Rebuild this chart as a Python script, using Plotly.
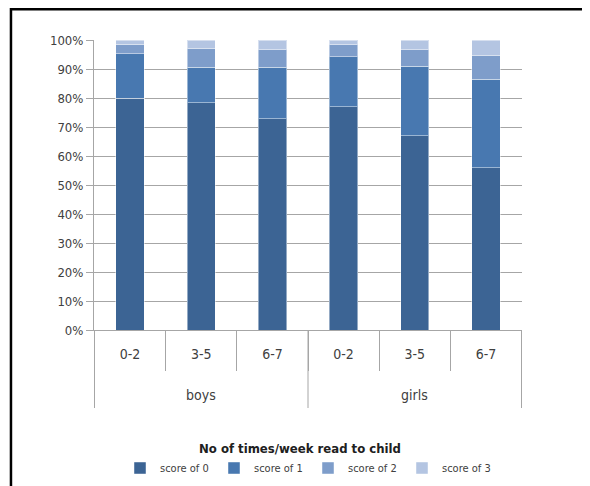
import plotly.graph_objects as go

groups = ["boys", "boys", "boys", "girls", "girls", "girls"]
freq = ["0-2", "3-5", "6-7", "0-2", "3-5", "6-7"]
score0 = [80.0, 78.4, 72.9, 77.0, 66.9, 55.9]
score1 = [15.2, 12.2, 17.7, 17.3, 24.1, 30.5]
score2 = [3.3, 6.6, 6.0, 4.1, 5.6, 8.4]
score3 = [1.5, 2.8, 3.4, 1.6, 3.4, 5.2]
series_names = ["score of 0", "score of 1", "score of 2", "score of 3"]
colors = ["#3C6494", "#4878B0", "#7E9DCA", "#B4C5E2"]
ytick_vals = [0, 10, 20, 30, 40, 50, 60, 70, 80, 90, 100]
ytick_text = [f"{v}%" for v in ytick_vals]
group_names = ["boys", "girls"]

FONT = "DejaVu Sans Condensed, Liberation Sans Narrow, sans-serif"
GRID = "#A6A6A6"

cats = [f"{g} {f}" for g, f in zip(groups, freq)]

fig = go.Figure()
for name, vals, col in zip(series_names, [score0, score1, score2, score3], colors):
    fig.add_trace(go.Bar(
        x=cats, y=vals, name=name,
        marker=dict(color=col, line=dict(color="rgba(255,255,255,0.45)", width=1)),
    ))

annotations = [dict(text="<b>No of times/week read to child</b>", xref="paper", yref="paper",
                    x=0.481, y=-0.41, xanchor="center", yanchor="middle", showarrow=False,
                    font=dict(size=13, color="#202020"))]
shapes = [
    dict(type="line", xref="paper", yref="paper", x0=-0.194, x1=-0.194, y0=1.2, y1=-0.6,
         line=dict(color="black", width=2.5)),
    dict(type="line", xref="paper", yref="paper", x0=-0.194, x1=1.2, y0=1.106, y1=1.106,
         line=dict(color="black", width=2.5)),
]
n_per_group = len(cats) // len(group_names)
for gi, g in enumerate(group_names):
    center = gi * n_per_group + (n_per_group - 1) / 2
    annotations.append(dict(text=g, xref="x", yref="paper", x=center, y=-0.225,
                            xanchor="center", yanchor="middle", showarrow=False,
                            font=dict(size=14, color="#404040")))
for b in range(len(group_names) + 1):
    xb = b * n_per_group - 0.5
    shapes.append(dict(type="line", xref="x", yref="paper", x0=xb, x1=xb, y0=0, y1=-0.269,
                       line=dict(color=GRID, width=1)))

fig.update_layout(
    barmode="stack",
    bargap=0.6,
    width=590, height=486,
    margin=dict(l=86, r=76, t=32, b=164),
    paper_bgcolor="white", plot_bgcolor="white",
    font=dict(family=FONT, size=13, color="#404040"),
    showlegend=True,
    legend=dict(orientation="h", x=0.5, xanchor="center", yref="container",
                y=1 - 460 / 486, yanchor="middle",
                font=dict(size=11, color="#404040"), entrywidth=49,
                entrywidthmode="pixels", itemwidth=30,
                traceorder="normal"),
    annotations=annotations,
    shapes=shapes,
)
fig.update_yaxes(range=[0, 100], tickvals=ytick_vals, ticktext=ytick_text,
                 showgrid=True, gridcolor=GRID, gridwidth=1, automargin=False,
                 showline=True, linecolor=GRID, ticks="outside", ticklen=7,
                 tickcolor=GRID, zeroline=False, tickfont=dict(size=13))
fig.update_xaxes(type="category", showline=True, linecolor=GRID, automargin=False,
                 tickvals=cats, ticktext=freq,
                 ticks="outside", tickson="boundaries", ticklen=40, tickcolor=GRID,
                 ticklabelstandoff=11,
                 tickfont=dict(size=14, color="#404040"))

fig.write_html("out.html")
